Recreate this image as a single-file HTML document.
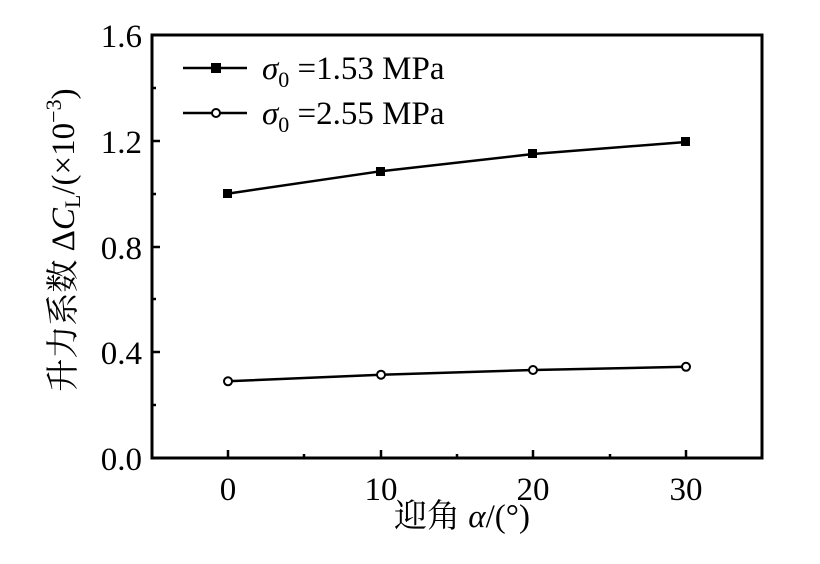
<!DOCTYPE html>
<html><head><meta charset="utf-8"><style>
body{margin:0;background:#fff}
svg text{font-family:"Liberation Serif","Noto Serif CJK SC",serif;fill:#000}
</style></head><body>
<svg width="820" height="559" viewBox="0 0 820 559" xmlns="http://www.w3.org/2000/svg">
<g stroke="#000" stroke-width="3" fill="none">
<rect x="152" y="35" width="610" height="423"/>
</g>
<g stroke="#000" stroke-width="2.5">
<line x1="228" y1="458" x2="228" y2="450"/><line x1="381" y1="458" x2="381" y2="450"/>
<line x1="533" y1="458" x2="533" y2="450"/><line x1="686" y1="458" x2="686" y2="450"/>
<line x1="304" y1="458" x2="304" y2="454"/><line x1="457" y1="458" x2="457" y2="454"/>
<line x1="610" y1="458" x2="610" y2="454"/>
<line x1="152" y1="352" x2="160" y2="352"/><line x1="152" y1="247" x2="160" y2="247"/>
<line x1="152" y1="141" x2="160" y2="141"/>
<line x1="152" y1="405" x2="156" y2="405"/><line x1="152" y1="299" x2="156" y2="299"/>
<line x1="152" y1="194" x2="156" y2="194"/><line x1="152" y1="88" x2="156" y2="88"/>
</g>
<g font-size="33" text-anchor="end">
<text x="142" y="470">0.0</text><text x="142" y="364">0.4</text>
<text x="142" y="259">0.8</text><text x="142" y="153">1.2</text><text x="142" y="47">1.6</text>
</g>
<g font-size="33" text-anchor="middle">
<text x="228" y="500">0</text><text x="381" y="500">10</text>
<text x="533" y="500">20</text><text x="686" y="500">30</text>
<text x="462" y="527">迎角 <tspan font-style="italic">α</tspan>/(°)</text>
</g>
<text font-size="33" text-anchor="middle" transform="translate(74,240) rotate(-90)">升力系数 Δ<tspan font-style="italic">C</tspan><tspan font-size="22" dy="6">L</tspan><tspan dy="-6">/(×10</tspan><tspan font-size="22" dy="-13">−3</tspan><tspan dy="13">)</tspan></text>
<polyline points="228,193.6 381,171.2 533,154 686,142" fill="none" stroke="#000" stroke-width="2.5"/>
<g fill="#000"><rect x="223" y="189" width="9" height="9"/><rect x="376" y="167" width="9" height="9"/><rect x="528" y="149" width="9" height="9"/><rect x="681" y="137" width="9" height="9"/></g>
<polyline points="228,381.3 381,374.7 533,370 686,366.8" fill="none" stroke="#000" stroke-width="2.5"/>
<g fill="#fff" stroke="#000" stroke-width="2"><circle cx="228" cy="381.3" r="4"/><circle cx="381" cy="374.7" r="4"/><circle cx="533" cy="370" r="4"/><circle cx="686" cy="366.8" r="4"/></g>
<line x1="183" y1="68" x2="247" y2="68" stroke="#000" stroke-width="2.5"/>
<rect x="211" y="63" width="10" height="10" fill="#000"/>
<line x1="183" y1="113" x2="247" y2="113" stroke="#000" stroke-width="2.5"/>
<circle cx="216" cy="113" r="4" fill="#fff" stroke="#000" stroke-width="2"/>
<text x="262" y="79" font-size="33"><tspan font-style="italic">σ</tspan><tspan font-size="22" dy="8">0</tspan><tspan dy="-8"> =1.53 MPa</tspan></text>
<text x="262" y="124" font-size="33"><tspan font-style="italic">σ</tspan><tspan font-size="22" dy="8">0</tspan><tspan dy="-8"> =2.55 MPa</tspan></text>
</svg>
</body></html>
